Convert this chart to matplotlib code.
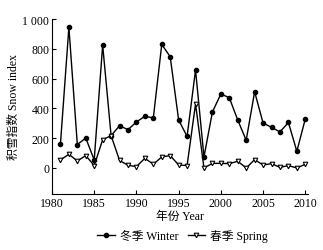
import matplotlib
matplotlib.use("Agg")
import matplotlib.pyplot as plt

# Snow index per year
years = list(range(1981, 2011))
winter = [161, 945, 157, 201, 54, 825, 217, 284, 257, 309,
          347, 336, 830, 747, 322, 212, 658, 74, 376, 497,
          472, 322, 186, 512, 302, 273, 242, 306, 112, 329]
spring = [54, 92, 47, 83, 16, 190, 217, 51, 18, 9,
          65, 25, 74, 83, 20, 16, 430, 0, 31, 31,
          29, 45, 0, 56, 20, 29, 4, 16, 0, 25]
xticks = [1980, 1985, 1990, 1995, 2000, 2005, 2010]
yticks = [0, 200, 400, 600, 800, 1000]
ytick_labels = ["0", "200", "400", "600", "800", "1 000"]

fonts = ["Liberation Serif", "Noto Sans CJK SC", "DejaVu Sans"]
plt.rcParams["font.family"] = fonts
plt.rcParams["font.size"] = 8.5

fig = plt.figure(figsize=(3.23, 2.51), dpi=100)
ax = fig.add_axes([0.161, 0.223, 0.792, 0.697])

ax.plot(years, winter, color="black", lw=1.0, marker="o", ms=3.0,
        label="冬季 Winter")
ax.plot(years, spring, color="black", lw=1.0, marker="v", ms=3.3,
        mfc="white", mew=0.8, label="春季 Spring")

ax.set_xlim(1980, 2010.3)
ax.set_ylim(-175, 1000)
ax.set_xticks(xticks)
ax.set_yticks(yticks)
ax.set_yticklabels(ytick_labels)
ax.tick_params(direction="in", length=3, width=0.8, pad=2)
for side in ["top", "right"]:
    ax.spines[side].set_visible(False)
for side in ["left", "bottom"]:
    ax.spines[side].set_linewidth(0.8)

ax.set_xlabel("年份 Year", labelpad=1)
ax.set_ylabel("积雪指数 Snow index", labelpad=2)

fig.legend(loc="lower center", bbox_to_anchor=(0.565, -0.01), ncol=2,
           frameon=False, numpoints=1, handlelength=1.5, columnspacing=0.8,
           handletextpad=0.4)

fig.savefig("out.png", dpi=100)
